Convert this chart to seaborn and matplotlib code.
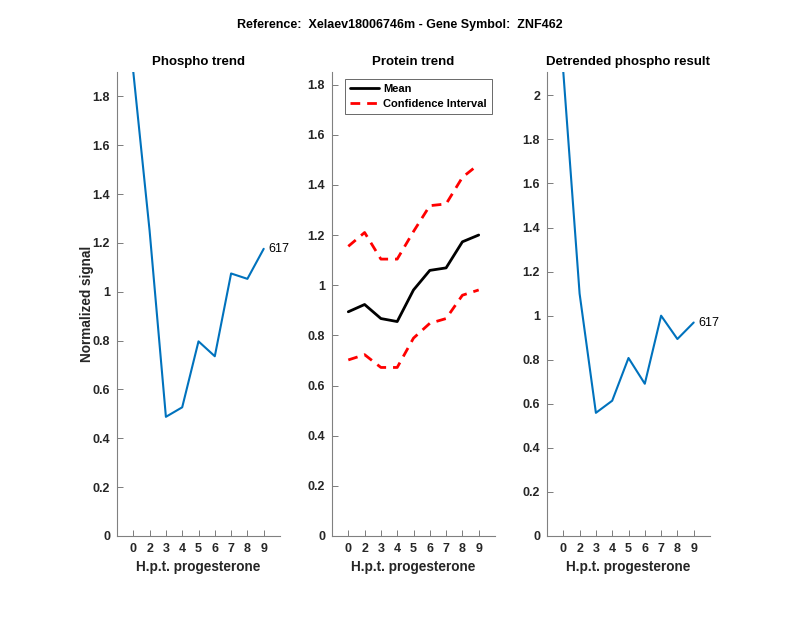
import matplotlib
matplotlib.use("Agg")
import matplotlib.pyplot as plt
import seaborn as sns
import pandas as pd
import numpy as np

# ---- data ----
time_labels = ["0", "2", "3", "4", "5", "6", "7", "8", "9"]
phospho = [1.90, 1.25, 0.488, 0.527, 0.797, 0.736, 1.075, 1.053, 1.176]
protein_mean = [0.894, 0.923, 0.867, 0.855, 0.981, 1.059, 1.069, 1.173, 1.200]
protein_upper = [1.155, 1.210, 1.104, 1.104, 1.214, 1.317, 1.324, 1.430, 1.482]
protein_lower = [0.702, 0.723, 0.672, 0.672, 0.789, 0.848, 0.867, 0.960, 0.981]
detrended = [2.106, 1.10, 0.559, 0.614, 0.808, 0.691, 1.000, 0.894, 0.969]
peptide_label = "617"

sns.set_theme(style="white")
plt.rcParams["font.family"] = ["Liberation Sans", "DejaVu Sans"]
plt.rcParams["font.weight"] = "bold"

axis_col = (0.15, 0.15, 0.15)
blue = "#0072BD"

fig = plt.figure(figsize=(8.0, 6.18), dpi=100)
W, H = 800.0, 618.0
lefts = [117, 332, 547]
aw = 163
top, bot = 72, 536
axes = [fig.add_axes([l / W, (H - bot) / H, aw / W, (bot - top) / H]) for l in lefts]

pos = list(range(len(time_labels)))

df_ph = pd.DataFrame({"pos": pos, "val": phospho})
df_de = pd.DataFrame({"pos": pos, "val": detrended})
df_pr = pd.DataFrame({
    "pos": pos * 3,
    "val": protein_mean + protein_upper + protein_lower,
    "kind": ["Mean"] * len(pos) + ["Upper"] * len(pos) + ["Lower"] * len(pos),
})

title_fs = 9.5
label_fs = 9.8

# Left panel
ax = axes[0]
sns.lineplot(data=df_ph, x="pos", y="val", ax=ax, color=blue, linewidth=1.5)
ax.text(pos[-1] + 0.3, phospho[-1], peptide_label, fontsize=9, fontweight="normal",
        va="center", ha="left", color="black")
ax.set_ylim(0, max(phospho))
ax.set_yticks(np.arange(0, 1.81, 0.2))
ax.set_title("Phospho trend", fontsize=title_fs, fontweight="bold", pad=5, color="black")
ax.set_ylabel("Normalized signal", fontsize=label_fs, fontweight="bold", labelpad=-1)

# Middle panel
ax = axes[1]
sns.lineplot(data=df_pr[df_pr.kind == "Mean"], x="pos", y="val", ax=ax,
             color="black", linewidth=2, label="Mean")
sns.lineplot(data=df_pr[df_pr.kind == "Upper"], x="pos", y="val", ax=ax,
             color="red", linewidth=2, linestyle=(0, (3.5, 2.5)), label="Confidence Interval")
sns.lineplot(data=df_pr[df_pr.kind == "Lower"], x="pos", y="val", ax=ax,
             color="red", linewidth=2, linestyle=(0, (3.5, 2.5)), label="_nolegend_")
ax.set_ylim(0, 1.85)
ax.set_yticks(np.arange(0, 1.81, 0.2))
ax.set_title("Protein trend", fontsize=title_fs, fontweight="bold", pad=5, color="black")
ax.set_ylabel("")
leg = ax.legend(loc="upper left", bbox_to_anchor=(0.08, 0.985), fontsize=8,
                frameon=True, fancybox=False, borderpad=0.45, handlelength=2.6,
                labelspacing=0.45, handletextpad=0.4, borderaxespad=0)
leg.get_frame().set_edgecolor(axis_col)
leg.get_frame().set_linewidth(0.6)
for t in leg.get_texts():
    t.set_fontweight("bold")
    t.set_color("black")

# Right panel
ax = axes[2]
sns.lineplot(data=df_de, x="pos", y="val", ax=ax, color=blue, linewidth=1.5)
ax.text(pos[-1] + 0.3, detrended[-1], peptide_label, fontsize=9, fontweight="normal",
        va="center", ha="left", color="black")
ax.set_ylim(0, max(detrended))
ax.set_yticks(np.arange(0, 2.01, 0.2))
ax.set_title("Detrended phospho result", fontsize=title_fs, fontweight="bold", pad=5, color="black")
ax.set_ylabel("")

for ax in axes:
    ax.set_xlim(-1, 9)
    ax.set_xticks(pos)
    ax.set_xticklabels(time_labels)
    ax.set_xlabel("H.p.t. progesterone", fontsize=label_fs, fontweight="bold", color=axis_col)
    ax.set_yticklabels([("%g" % v) for v in ax.get_yticks()])
    for s in ["top", "right"]:
        ax.spines[s].set_visible(False)
    for s in ["left", "bottom"]:
        ax.spines[s].set_color((0.5, 0.5, 0.5))
        ax.spines[s].set_linewidth(0.8)
    ax.tick_params(axis="both", direction="in", length=4, width=0.6,
                   color=(0.4, 0.4, 0.4), labelsize=9, labelcolor=axis_col,
                   left=True, bottom=True, pad=5)
    for lbl in ax.get_xticklabels() + ax.get_yticklabels():
        lbl.set_fontweight("bold")
axes[0].yaxis.label.set_color(axis_col)

fig.suptitle("Reference:  Xelaev18006746m - Gene Symbol:  ZNF462", fontsize=9,
             fontweight="bold", y=1 - 25 / H, va="center", color="black")

fig.savefig("out.png", dpi=100, facecolor="white")
